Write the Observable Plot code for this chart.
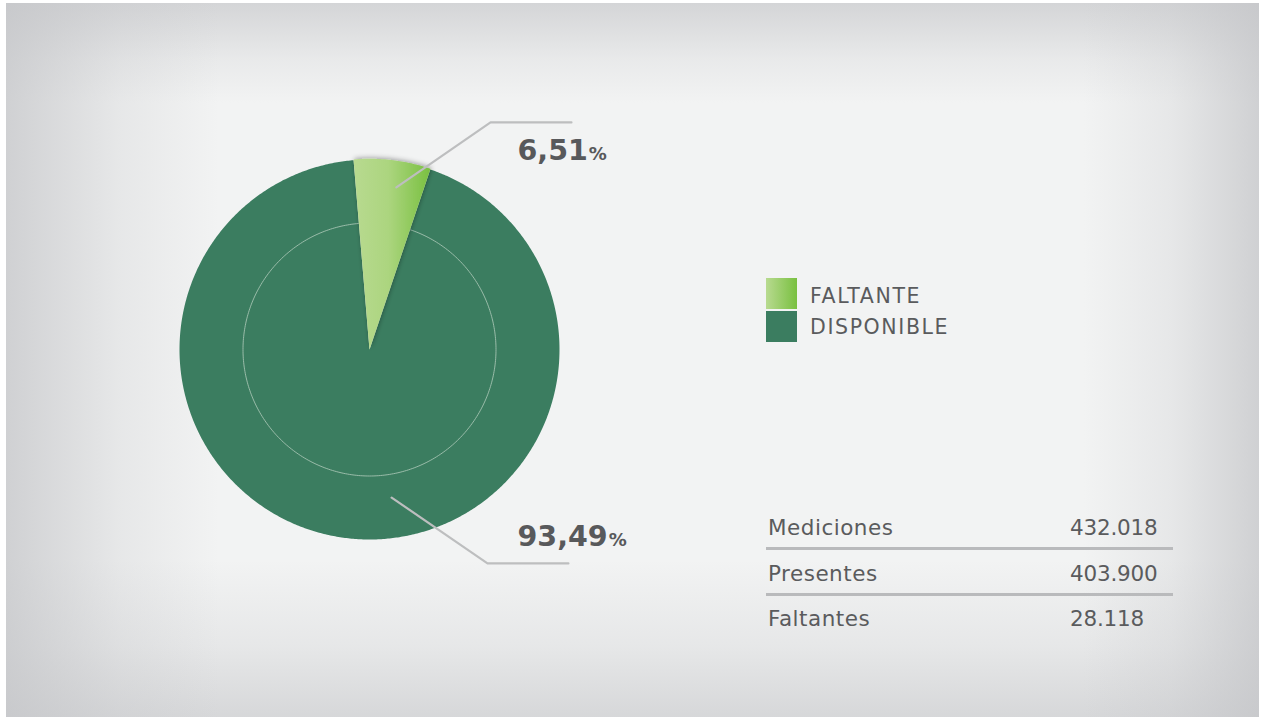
<!DOCTYPE html>
<html>
<head>
<meta charset="utf-8">
<script src="https://cdn.jsdelivr.net/npm/d3@7"></script>
<script src="https://cdn.jsdelivr.net/npm/@observablehq/plot@0.6"></script>
<style>
  html, body { margin: 0; padding: 0; background: #ffffff; }
  #page { position: relative; width: 1261px; height: 717px; overflow: hidden; background: #ffffff; }
  #panel {
    position: absolute; left: 6px; top: 3px; width: 1253px; height: 714px;
    background:
      linear-gradient(to right, rgba(196,197,200,0.75) 0%, rgba(196,197,200,0.25) 9%, rgba(196,197,200,0) 17%, rgba(196,197,200,0) 86%, rgba(196,197,200,0.25) 93%, rgba(196,197,200,0.75) 100%),
      linear-gradient(to bottom, rgba(196,197,200,0.65) 0%, rgba(196,197,200,0.2) 8%, rgba(196,197,200,0) 14%, rgba(196,197,200,0) 78%, rgba(196,197,200,0.25) 90%, rgba(196,197,200,0.6) 100%),
      #f2f3f3;
  }
  #chart { position: absolute; left: 0; top: 0; }
  .txt { position: absolute; font-family: "DejaVu Sans", sans-serif; color: #5a5b5d; white-space: nowrap; line-height: 1.164; font-weight: normal; }
  .sw { position: absolute; width: 31px; height: 31px; }
  .rule { position: absolute; height: 3px; background: #b9babc; }
</style>
</head>
<body>
<div id="page">
  <div id="panel"></div>
  <div id="chart"></div>
  <div id="legend"></div>
  <div id="table"></div>
</div>
<script>
// ---------- data ----------
const sliceNames = ["FALTANTE", "DISPONIBLE"];
const sliceValues = [6.51, 93.49];
const tableLabels = ["Mediciones", "Presentes", "Faltantes"];
const tableValues = ["432.018", "403.900", "28.118"];

// ---------- layout ----------
const W = 1261, H = 717;
const CX = 369, CY = 349, R = 190;          // pie centre & radius in pixels
const startDeg = -4.8;                       // rotation of first slice
const innerRingRatio = 126.5 / 190;
const colors = { FALTANTE: "url(#gradFaltante)", DISPONIBLE: "#3b7d60" };
const sliceRadius = { FALTANTE: 1.004, DISPONIBLE: 1 };
// leader lines: anchor in polar terms (deg, radius), elbow & end in radius units
const leaderLayout = {
  FALTANTE:   { angle: 9.4,   r: 0.865, elbow: [0.637, 1.195],  endX: 1.063, label: [0.779, 1.045] },
  DISPONIBLE: { angle: 171.5, r: 0.788, elbow: [0.621, -1.126], endX: 1.047, label: [0.779, -0.985] }
};

const rad = d => d * Math.PI / 180;
const pie = d3.pie().sort(null).value(d => d.value)
  .startAngle(rad(startDeg)).endAngle(rad(startDeg) + 2 * Math.PI);
const arcs = pie(sliceNames.map((name, i) => ({ name, value: sliceValues[i] })));

function slicePolygon(a) {
  const r = sliceRadius[a.data.name];
  const pts = [{ x: 0, y: 0 }];
  const n = Math.max(8, Math.ceil((a.endAngle - a.startAngle) / rad(0.5)));
  for (let k = 0; k <= n; k++) {
    const t = a.startAngle + (a.endAngle - a.startAngle) * k / n;
    pts.push({ x: r * Math.sin(t), y: r * Math.cos(t) });
  }
  pts.push({ x: 0, y: 0 });
  return pts;
}
const darkPts = slicePolygon(arcs[1]);
const lightPts = slicePolygon(arcs[0]);

const ringPts = d3.range(0, 361, 1).map(d => ({ x: innerRingRatio * Math.sin(rad(d)), y: innerRingRatio * Math.cos(rad(d)) }));

const leaders = [];
const labels = [];
arcs.forEach(a => {
  const L = leaderLayout[a.data.name];
  leaders.push({ name: a.data.name, x: L.r * Math.sin(rad(L.angle)), y: L.r * Math.cos(rad(L.angle)) });
  leaders.push({ name: a.data.name, x: L.elbow[0], y: L.elbow[1] });
  leaders.push({ name: a.data.name, x: L.endX, y: L.elbow[1] });
  labels.push({ name: a.data.name, x: L.label[0], y: L.label[1], text: a.data.value.toFixed(2).replace(".", ",") });
});

const svg = Plot.plot({
  width: W, height: H, margin: 0,
  x: { domain: [-CX / R, (W - CX) / R], axis: null },
  y: { domain: [-(H - CY) / R, CY / R], axis: null },
  style: { background: "transparent", fontFamily: "DejaVu Sans, sans-serif", overflow: "visible" },
  marks: [
    Plot.line(darkPts, { x: "x", y: "y", fill: colors.DISPONIBLE, stroke: "none" }),
    Plot.line(ringPts, { x: "x", y: "y", stroke: "#a3c2b0", strokeWidth: 1, strokeOpacity: 0.9 }),
    Plot.line(lightPts, { x: "x", y: "y", fill: colors.FALTANTE, stroke: "none", ariaDescription: "faltante-slice" }),
    Plot.line(leaders, { x: "x", y: "y", z: "name", stroke: "#bdbebf", strokeWidth: 2.2 }),
    Plot.text(labels, { x: "x", y: "y", text: "text", textAnchor: "start", fontSize: 28.5, fontWeight: "bold", fill: "#58595b", ariaDescription: "pct-labels" })
  ]
});

// gradient + shadow definitions
const defs = d3.select(svg).insert("defs", ":first-child");
const grad = defs.append("linearGradient").attr("id", "gradFaltante").attr("x1", 0).attr("x2", 1).attr("y1", 0).attr("y2", 0);
grad.append("stop").attr("offset", "0%").attr("stop-color", "#b8da90");
grad.append("stop").attr("offset", "45%").attr("stop-color", "#acd57f");
grad.append("stop").attr("offset", "100%").attr("stop-color", "#79c040");
const filt = defs.append("filter").attr("id", "sliceShadow").attr("x", "-30%").attr("y", "-30%").attr("width", "160%").attr("height", "160%");
filt.append("feDropShadow").attr("dx", 1).attr("dy", -1).attr("stdDeviation", 2.5).attr("flood-color", "#000").attr("flood-opacity", 0.35);
d3.select(svg).selectAll('[aria-description="faltante-slice"] path').attr("filter", "url(#sliceShadow)");
d3.select(svg).selectAll('[aria-description="pct-labels"] text').each(function () {
  d3.select(this).append("tspan").attr("font-size", 18).attr("dx", 1).text("%");
});
document.getElementById("chart").appendChild(svg);

// ---------- legend (HTML) ----------
const legend = document.getElementById("legend");
sliceNames.forEach((name, i) => {
  const sw = document.createElement("div");
  sw.className = "sw";
  sw.style.left = "766px";
  sw.style.top = (278 + i * 33) + "px";
  sw.style.background = name === "FALTANTE" ? "linear-gradient(to right, #b8da90, #79c040)" : colors.DISPONIBLE;
  legend.appendChild(sw);
  const t = document.createElement("div");
  t.className = "txt";
  t.style.left = "810px";
  t.style.fontSize = "20.5px";
  t.style.letterSpacing = "1.6px";
  t.style.top = (304 + i * 31 - 0.928 * 20.5) + "px";
  t.textContent = name;
  legend.appendChild(t);
});

// ---------- table (HTML) ----------
const table = document.getElementById("table");
tableLabels.forEach((lab, i) => {
  const base = 535 + i * 45.5;
  const a = document.createElement("div");
  a.className = "txt";
  a.style.left = "768px";
  a.style.fontSize = "21.5px";
  a.style.letterSpacing = "0.5px";
  a.style.top = (base - 0.928 * 21.5) + "px";
  a.textContent = lab;
  table.appendChild(a);
  const b = document.createElement("div");
  b.className = "txt";
  b.style.left = "1070px";
  b.style.fontSize = "21.5px";
  b.style.letterSpacing = "-0.2px";
  b.style.top = (base - 0.928 * 21.5) + "px";
  b.textContent = tableValues[i];
  table.appendChild(b);
  if (i < tableLabels.length - 1) {
    const r = document.createElement("div");
    r.className = "rule";
    r.style.left = "766px";
    r.style.width = "407px";
    r.style.top = (base + 12) + "px";
    table.appendChild(r);
  }
});
</script>
</body>
</html>
